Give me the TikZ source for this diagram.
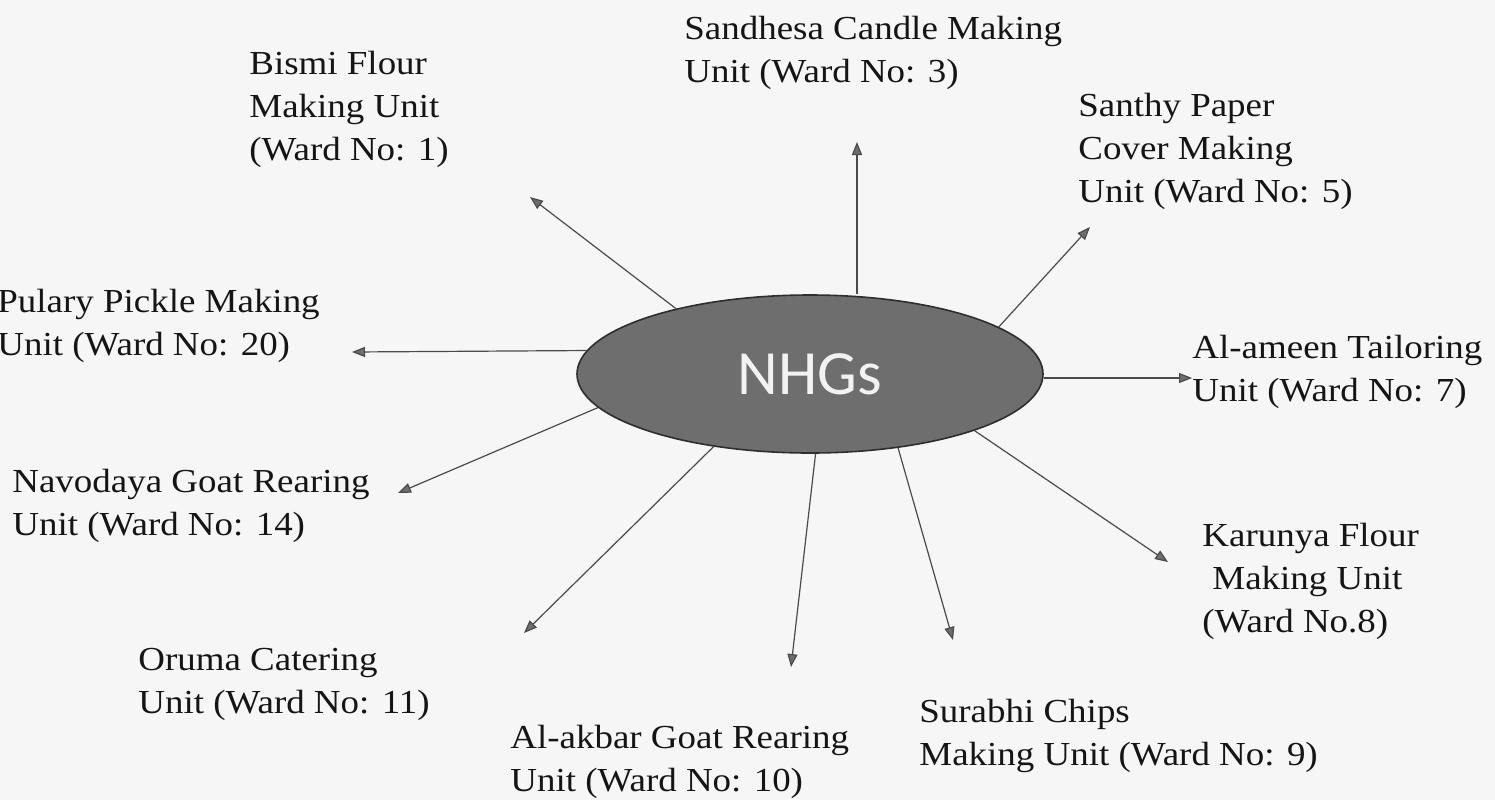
\documentclass[tikz,border=0pt]{standalone}
\usepackage{fontspec}
\setmainfont{Liberation Serif}[FakeStretch=1.1]
\newfontfamily\nhgfont{Carlito}
\usetikzlibrary{shapes.geometric,arrows.meta}
\definecolor{bg}{HTML}{F6F6F6}
\definecolor{txt}{HTML}{151515}
\definecolor{linec}{HTML}{4A4A4A}
\definecolor{headc}{HTML}{6E6E6E}
\definecolor{ellfill}{HTML}{6E6E6E}
\definecolor{ellline}{HTML}{2E2E2E}
\definecolor{nhgtext}{HTML}{F2F2F2}
\begin{document}
\begin{tikzpicture}[x=0.5pt,y=-0.5pt,
  lab/.style={anchor=base west, inner sep=0pt, align=left, font=\fontsize{16.8}{21.5}\selectfont, text=txt},
  arr/.style={draw=linec, line width=0.6pt, -{Triangle[length=6.5pt,width=5pt,fill=headc]}},
  hub/.style={ellipse, draw=ellline, line width=0.8pt, fill=ellfill, minimum width=233pt, minimum height=79pt, inner sep=0pt, text=nhgtext, font=\nhgfont\fontsize{31.5}{31.5}\selectfont}]
\fill[bg] (0,0) rectangle (1495,800);
\useasboundingbox (0,0) rectangle (1495,800);

\node[hub] (nhg) at (810,374) {NHGs};

% anchors are at the baseline of the last line
\node[lab] (sandhesa) at (684,82) {Sandhesa Candle Making\\Unit (Ward No: 3)};
\node[lab] (bismi) at (249,160) {Bismi Flour\\Making Unit\\(Ward No: 1)};
\node[lab] (santhy) at (1078,202) {Santhy Paper\\Cover Making\\Unit (Ward No: 5)};
\node[lab] (pulary) at (-3,355) {Pulary Pickle Making\\Unit (Ward No: 20)};
\node[lab] (alameen) at (1192,401) {Al-ameen Tailoring\\Unit (Ward No: 7)};
\node[lab] (navodaya) at (12,535) {Navodaya Goat Rearing\\Unit (Ward No: 14)};
\node[lab] (karunya) at (1202,632) {Karunya Flour\\\hspace*{5pt}Making Unit\\(Ward No.8)};
\node[lab] (oruma) at (138,713) {Oruma Catering\\Unit (Ward No: 11)};
\node[lab] (alakbar) at (510,791) {Al-akbar Goat Rearing\\Unit (Ward No: 10)};
\node[lab] (surabhi) at (919,765) {Surabhi Chips\\Making Unit (Ward No: 9)};

\coordinate (tbismi) at (530,197);
\coordinate (tsandhesa) at (857,142);
\coordinate (tsanthy) at (1090,227);
\coordinate (talameen) at (1192,378);
\coordinate (tkarunya) at (1168,562);
\coordinate (tsurabhi) at (953,640);
\coordinate (talakbar) at (791,667);
\coordinate (toruma) at (524,633);
\coordinate (tnavodaya) at (398,493);
\coordinate (tpulary) at (352,352);

\draw[arr] (nhg.154) -- (tbismi);
\draw[arr] (nhg.north -| tsandhesa) -- (tsandhesa);
\draw[arr] (nhg.14) -- (tsanthy);
\draw[arr] (nhg.east |- talameen) -- (talameen);
\draw[arr] (nhg.-19) -- (tkarunya);
\draw[arr] (nhg.-40) -- (tsurabhi);
\draw[arr] (nhg.-86) -- (talakbar);
\draw[arr] (nhg.-143) -- (toruma);
\draw[arr] (nhg.189) -- (tnavodaya);
\draw[arr] (nhg.174.5) -- (tpulary);
\end{tikzpicture}
\end{document}
